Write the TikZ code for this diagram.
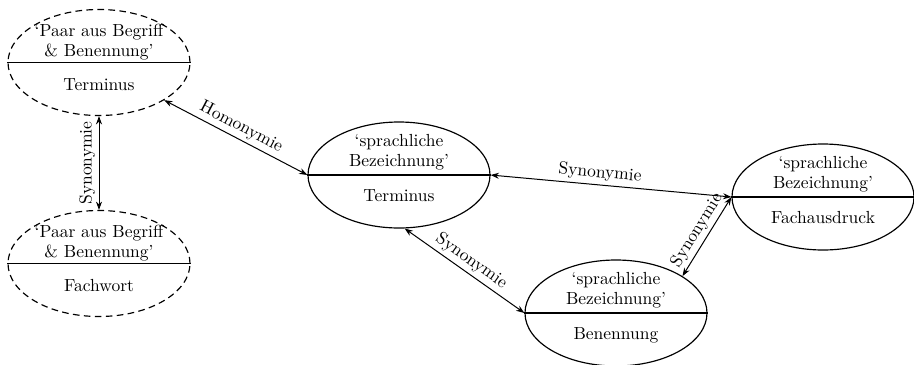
\documentclass[tikz,border=0pt]{standalone}
\usetikzlibrary{shapes.geometric,arrows.meta}
\tikzset{
  ell/.style={ellipse, draw, line width=0.7pt, minimum width=109.2pt, minimum height=63.6pt, inner sep=0pt},
  dell/.style={ell, dash pattern=on 4pt off 2.6pt},
  uppertext/.style={anchor=south, align=center, inner sep=0pt, font=\fontsize{10.5}{12}\selectfont},
  lowertext/.style={anchor=base, inner sep=0pt, font=\fontsize{10.5}{12}\selectfont},
  divider/.style={line width=0.7pt},
  conn/.style={{Stealth[length=5pt,width=3.6pt]}-{Stealth[length=5pt,width=3.6pt]}, line width=0.6pt},
  lab/.style={sloped, above, inner sep=2pt, font=\fontsize{10.5}{12}\selectfont}
}
\begin{document}
\begin{tikzpicture}[x=0.6pt, y=-0.6pt]
\useasboundingbox (0,0) rectangle (914,364);
% ellipses
\node[dell] (A) at (99,62.5) {};
\node[dell] (D) at (99,263.5) {};
\node[ell] (C) at (399,175) {};
\node[ell] (F) at (823,197) {};
\node[ell] (B) at (616,313) {};
% dividers
\draw[divider] (A.west) -- (A.east);
\draw[divider] (D.west) -- (D.east);
\draw[divider] (C.west) -- (C.east);
\draw[divider] (F.west) -- (F.east);
\draw[divider] (B.west) -- (B.east);
% texts
\node[uppertext] (A1) at ([yshift=1.5pt]A.center) {`Paar aus Begriff\\ \& Benennung'};
\node[lowertext] (A2) at ([yshift=-17pt]A.center) {Terminus};
\node[uppertext] (D1) at ([yshift=1.5pt]D.center) {`Paar aus Begriff\\ \& Benennung'};
\node[lowertext] (D2) at ([yshift=-17pt]D.center) {Fachwort};
\node[uppertext] (C1) at ([yshift=3pt]C.center) {`sprachliche\\ Bezeichnung'};
\node[lowertext] (C2) at ([yshift=-16pt]C.center) {Terminus};
\node[uppertext] (F1) at ([yshift=3pt]F.center) {`sprachliche\\ Bezeichnung'};
\node[lowertext] (F2) at ([yshift=-16pt]F.center) {Fachausdruck};
\node[uppertext] (B1) at ([yshift=3pt]B.center) {`sprachliche\\ Bezeichnung'};
\node[lowertext] (B2) at ([yshift=-16pt]B.center) {Benennung};
% connectors
\draw[conn] (D.north) -- node[lab, midway] {Synonymie} (A.south);
\draw[conn] (A.-30) -- node[lab, midway] {Homonymie} (C.west);
\draw[conn] (C.east) -- node[lab, pos=0.45] {Synonymie} (F.west);
\draw[conn] (C.-84) -- node[lab, midway] {Synonymie} (B.west);
\draw[conn] (B.29) -- node[lab, midway] {Synonymie} (F.west);
\end{tikzpicture}
\end{document}
